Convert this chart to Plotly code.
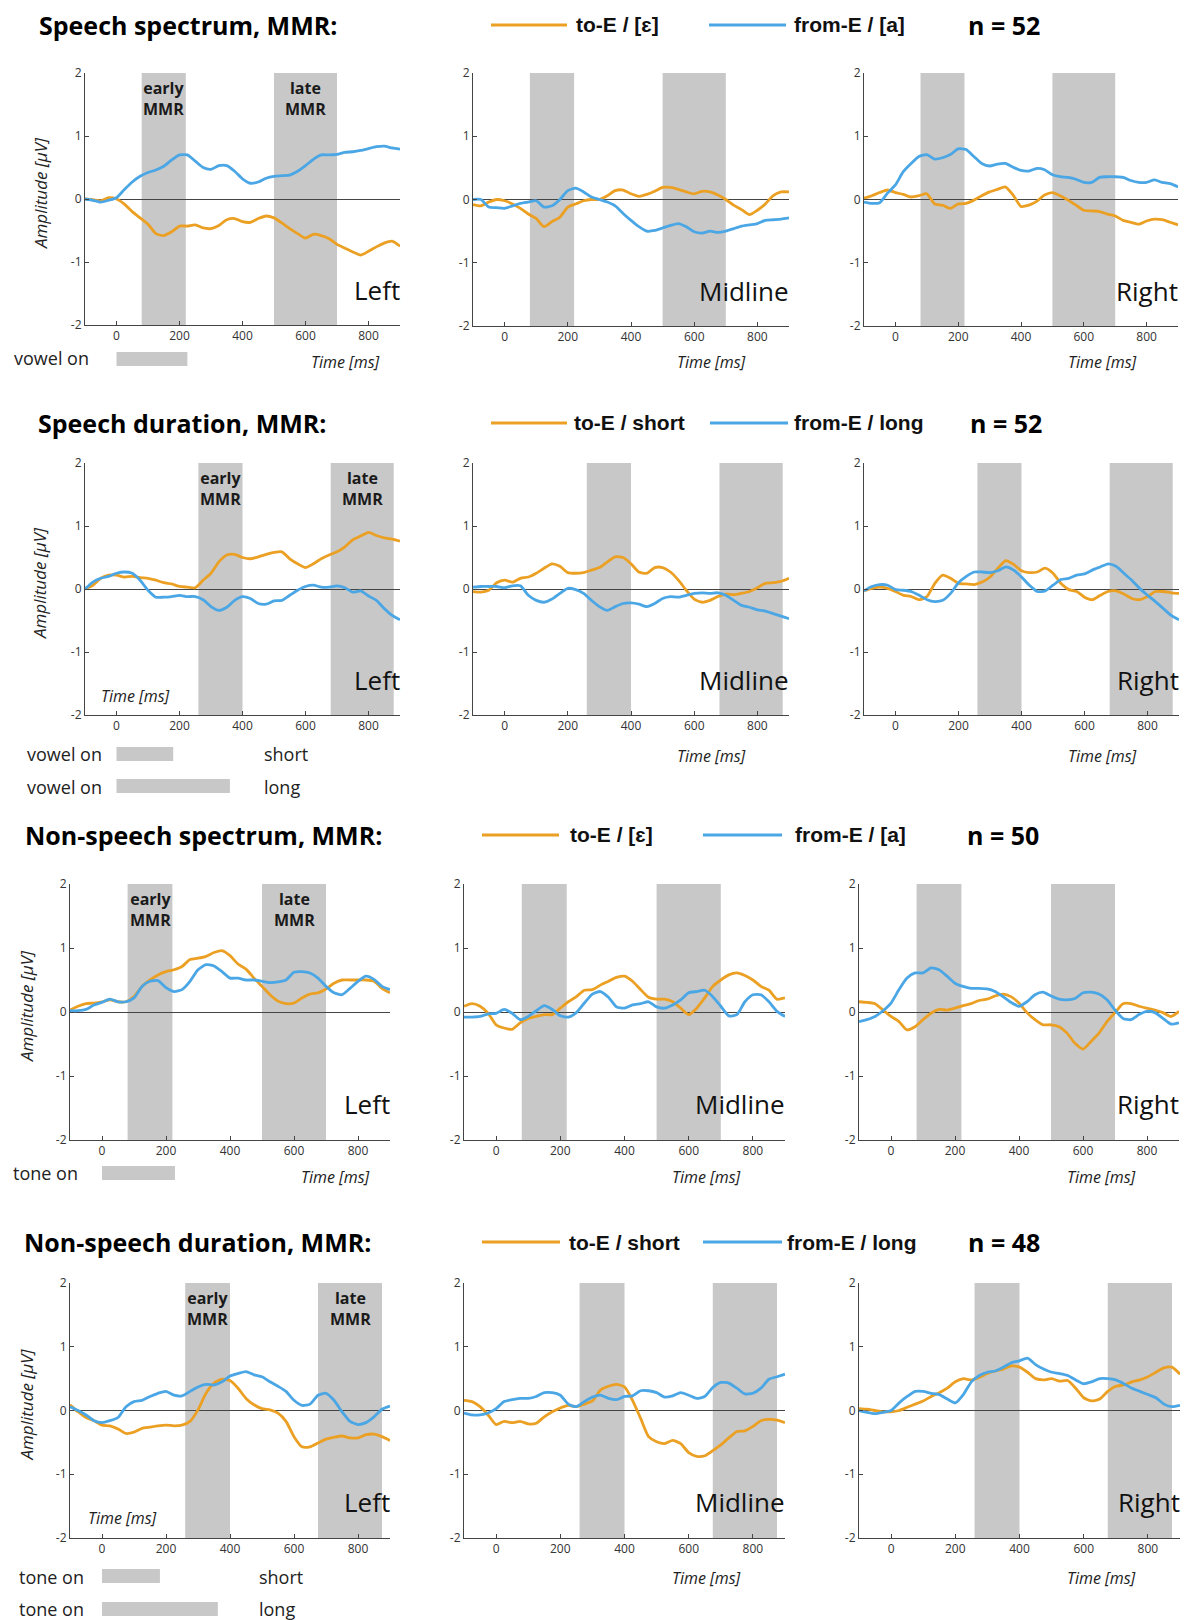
import plotly.graph_objects as go

# ---------------- data ----------------
T = list(range(-100, 901, 25))  # time [ms]

# Row 1: Speech spectrum (to-E / [ɛ] = orange, from-E / [a] = blue)
sspec_L_to = [0.0,-0.01,-0.03,0.02,0.0,-0.08,-0.2,-0.3,-0.4,-0.55,-0.58,-0.52,-0.43,-0.43,-0.41,-0.46,-0.47,-0.42,-0.33,-0.31,-0.36,-0.37,-0.31,-0.27,-0.30,-0.38,-0.47,-0.55,-0.62,-0.56,-0.58,-0.63,-0.72,-0.78,-0.84,-0.89,-0.83,-0.76,-0.70,-0.67,-0.75]
sspec_L_from = [0.0,-0.02,-0.05,-0.02,0.02,0.15,0.27,0.36,0.42,0.46,0.52,0.62,0.70,0.70,0.60,0.50,0.47,0.53,0.53,0.44,0.32,0.25,0.27,0.33,0.36,0.37,0.38,0.44,0.53,0.63,0.70,0.70,0.71,0.74,0.75,0.77,0.80,0.83,0.84,0.81,0.79]
sspec_M_to = [-0.08,-0.1,-0.04,0.0,-0.02,-0.07,-0.14,-0.23,-0.3,-0.43,-0.35,-0.28,-0.12,-0.07,-0.02,0.0,0.0,0.06,0.14,0.15,0.09,0.05,0.08,0.13,0.19,0.19,0.16,0.12,0.09,0.13,0.12,0.07,0.0,-0.09,-0.16,-0.24,-0.17,-0.07,0.06,0.12,0.12]
sspec_M_from = [0.0,0.0,-0.12,-0.13,-0.14,-0.1,-0.06,-0.04,-0.02,-0.12,-0.1,0.0,0.14,0.18,0.12,0.04,0.0,-0.04,-0.1,-0.22,-0.33,-0.43,-0.5,-0.49,-0.45,-0.41,-0.38,-0.43,-0.51,-0.53,-0.5,-0.52,-0.5,-0.46,-0.42,-0.4,-0.38,-0.33,-0.32,-0.31,-0.29]
sspec_R_to = [0.02,0.06,0.11,0.15,0.11,0.08,0.04,0.06,0.09,-0.07,-0.09,-0.14,-0.07,-0.06,-0.01,0.06,0.12,0.16,0.2,0.07,-0.11,-0.09,-0.03,0.07,0.11,0.06,-0.01,-0.09,-0.17,-0.18,-0.19,-0.23,-0.26,-0.33,-0.36,-0.39,-0.34,-0.31,-0.32,-0.36,-0.4]
sspec_R_from = [-0.04,-0.06,-0.05,0.1,0.23,0.44,0.57,0.68,0.71,0.64,0.66,0.71,0.8,0.79,0.68,0.57,0.53,0.56,0.57,0.51,0.46,0.45,0.49,0.47,0.39,0.36,0.35,0.32,0.27,0.27,0.35,0.36,0.36,0.35,0.30,0.27,0.27,0.31,0.27,0.25,0.2]

# Row 2: Speech duration (to-E / short = orange, from-E / long = blue)
sdur_L_to = [0.0,0.06,0.17,0.22,0.22,0.19,0.2,0.18,0.17,0.14,0.1,0.08,0.04,0.03,0.02,0.14,0.25,0.43,0.54,0.55,0.5,0.48,0.51,0.55,0.58,0.59,0.48,0.4,0.34,0.4,0.48,0.54,0.59,0.67,0.78,0.84,0.9,0.85,0.81,0.79,0.76]
sdur_L_from = [0.0,0.11,0.17,0.2,0.25,0.27,0.25,0.14,-0.02,-0.13,-0.13,-0.12,-0.1,-0.12,-0.12,-0.17,-0.28,-0.34,-0.29,-0.18,-0.12,-0.15,-0.23,-0.24,-0.19,-0.18,-0.1,-0.02,0.04,0.06,0.03,0.03,0.05,0.02,-0.05,-0.03,-0.11,-0.18,-0.31,-0.42,-0.49]
sdur_M_to = [-0.04,-0.05,-0.02,0.1,0.14,0.11,0.17,0.19,0.25,0.33,0.4,0.36,0.26,0.25,0.26,0.3,0.34,0.43,0.51,0.5,0.4,0.27,0.25,0.34,0.34,0.27,0.14,-0.02,-0.16,-0.21,-0.18,-0.12,-0.08,-0.09,-0.07,-0.04,0.02,0.09,0.1,0.12,0.17]
sdur_M_from = [0.03,0.04,0.04,0.04,0.02,0.05,0.05,-0.1,-0.18,-0.21,-0.16,-0.07,0.01,-0.01,-0.07,-0.18,-0.28,-0.34,-0.28,-0.23,-0.22,-0.24,-0.28,-0.23,-0.15,-0.12,-0.13,-0.1,-0.07,-0.06,-0.07,-0.06,-0.1,-0.18,-0.26,-0.29,-0.33,-0.35,-0.39,-0.43,-0.47]
sdur_R_to = [-0.03,0.01,0.03,0.01,-0.04,-0.1,-0.12,-0.17,-0.12,0.09,0.22,0.17,0.09,0.08,0.07,0.11,0.19,0.33,0.45,0.39,0.29,0.26,0.27,0.33,0.25,0.09,-0.01,-0.04,-0.13,-0.17,-0.1,-0.04,-0.03,-0.08,-0.15,-0.17,-0.12,-0.04,-0.04,-0.06,-0.07]
sdur_R_from = [-0.03,0.04,0.07,0.06,-0.01,-0.02,-0.04,-0.1,-0.17,-0.2,-0.18,-0.07,0.1,0.2,0.27,0.27,0.26,0.29,0.35,0.3,0.19,0.06,-0.04,-0.03,0.06,0.15,0.17,0.22,0.24,0.3,0.35,0.4,0.36,0.25,0.14,0.01,-0.1,-0.2,-0.31,-0.42,-0.49]

# Row 3: Non-speech spectrum
nspec_L_to = [0.03,0.09,0.13,0.14,0.16,0.19,0.16,0.16,0.24,0.4,0.5,0.58,0.63,0.66,0.71,0.82,0.84,0.87,0.93,0.96,0.88,0.75,0.67,0.53,0.4,0.27,0.17,0.13,0.14,0.22,0.28,0.3,0.36,0.45,0.5,0.5,0.5,0.5,0.48,0.37,0.3]
nspec_L_from = [0.02,0.02,0.04,0.11,0.15,0.2,0.16,0.16,0.22,0.4,0.48,0.49,0.38,0.32,0.35,0.48,0.66,0.74,0.72,0.63,0.53,0.53,0.5,0.5,0.48,0.46,0.47,0.5,0.62,0.63,0.61,0.53,0.4,0.3,0.27,0.37,0.48,0.56,0.51,0.4,0.35]
nspec_M_to = [0.09,0.13,0.09,-0.02,-0.2,-0.25,-0.27,-0.17,-0.1,-0.07,-0.04,-0.04,0.06,0.16,0.24,0.34,0.35,0.42,0.48,0.54,0.56,0.48,0.35,0.23,0.2,0.2,0.16,0.06,-0.04,0.06,0.22,0.4,0.5,0.58,0.61,0.57,0.5,0.4,0.34,0.2,0.22]
nspec_M_from = [-0.08,-0.08,-0.07,-0.03,-0.02,0.04,-0.02,-0.12,-0.07,0.02,0.1,0.04,-0.06,-0.08,-0.01,0.14,0.28,0.32,0.23,0.08,0.06,0.11,0.13,0.16,0.08,0.06,0.11,0.19,0.3,0.32,0.34,0.24,0.09,-0.06,-0.04,0.16,0.27,0.27,0.16,0.01,-0.07]
nspec_R_to = [0.16,0.15,0.13,0.03,-0.07,-0.15,-0.28,-0.23,-0.12,-0.02,0.04,0.03,0.06,0.1,0.13,0.18,0.2,0.25,0.28,0.24,0.14,-0.01,-0.12,-0.2,-0.2,-0.23,-0.33,-0.49,-0.58,-0.46,-0.33,-0.15,-0.01,0.13,0.13,0.09,0.06,0.03,-0.01,-0.07,0.01]
nspec_R_from = [-0.15,-0.12,-0.07,0.02,0.14,0.35,0.53,0.61,0.61,0.69,0.66,0.56,0.45,0.4,0.37,0.37,0.36,0.32,0.24,0.15,0.09,0.16,0.27,0.31,0.25,0.2,0.19,0.21,0.3,0.31,0.28,0.19,0.03,-0.1,-0.12,-0.04,0.01,-0.01,-0.1,-0.19,-0.17]

# Row 4: Non-speech duration
ndur_L_to = [0.09,-0.02,-0.11,-0.16,-0.23,-0.24,-0.29,-0.36,-0.34,-0.28,-0.26,-0.24,-0.23,-0.24,-0.23,-0.17,0.01,0.27,0.43,0.49,0.47,0.35,0.19,0.09,0.03,0.01,-0.04,-0.17,-0.41,-0.57,-0.57,-0.51,-0.45,-0.42,-0.4,-0.43,-0.43,-0.38,-0.37,-0.41,-0.47]
ndur_L_from = [0.06,0.0,-0.07,-0.16,-0.19,-0.16,-0.11,0.06,0.14,0.16,0.22,0.27,0.3,0.24,0.23,0.3,0.37,0.41,0.4,0.45,0.54,0.58,0.61,0.56,0.53,0.45,0.38,0.3,0.16,0.08,0.1,0.24,0.27,0.16,-0.02,-0.17,-0.22,-0.19,-0.1,0.02,0.07]
ndur_M_to = [0.16,0.14,0.06,-0.07,-0.22,-0.17,-0.19,-0.17,-0.21,-0.2,-0.1,-0.02,0.04,0.08,0.06,0.1,0.15,0.32,0.38,0.41,0.37,0.16,-0.12,-0.41,-0.49,-0.52,-0.47,-0.52,-0.66,-0.72,-0.71,-0.63,-0.54,-0.43,-0.33,-0.32,-0.25,-0.16,-0.14,-0.15,-0.19]
ndur_M_from = [-0.04,-0.07,-0.07,-0.04,0.03,0.14,0.17,0.19,0.19,0.22,0.28,0.28,0.24,0.1,0.06,0.14,0.21,0.24,0.19,0.17,0.22,0.23,0.31,0.31,0.28,0.21,0.23,0.28,0.24,0.19,0.22,0.36,0.44,0.43,0.35,0.26,0.27,0.35,0.49,0.53,0.57]
ndur_R_to = [0.03,0.02,0.0,-0.02,-0.02,0.0,0.05,0.1,0.15,0.22,0.28,0.35,0.45,0.5,0.48,0.52,0.58,0.62,0.65,0.7,0.68,0.6,0.5,0.48,0.5,0.46,0.47,0.35,0.2,0.15,0.18,0.3,0.38,0.4,0.45,0.48,0.53,0.6,0.67,0.68,0.57]
ndur_R_from = [0.0,-0.03,-0.05,-0.03,0.0,0.12,0.22,0.3,0.3,0.27,0.25,0.18,0.12,0.25,0.45,0.55,0.6,0.62,0.68,0.75,0.78,0.82,0.72,0.65,0.6,0.58,0.55,0.48,0.42,0.45,0.5,0.5,0.48,0.42,0.35,0.3,0.25,0.2,0.1,0.06,0.08]

row_titles = ["Speech spectrum, MMR:", "Speech duration, MMR:",
              "Non-speech spectrum, MMR:", "Non-speech duration, MMR:"]
legend_to = ["to-E / [ɛ]", "to-E / short", "to-E / [ɛ]", "to-E / short"]
legend_from = ["from-E / [a]", "from-E / long", "from-E / [a]", "from-E / long"]
n_labels = ["n = 52", "n = 52", "n = 50", "n = 48"]
site_labels = ["Left", "Midline", "Right"]

# MMR analysis windows [ms] per row: (early, late)
windows = [((80, 220), (500, 700)),
           ((260, 400), (680, 880)),
           ((80, 220), (500, 700)),
           ((260, 400), (675, 875))]

# stimulus durations [ms]
stim_spec_vowel = 225
stim_dur_vowel = [180, 360]
stim_spec_tone = 228
stim_dur_tone = [181, 362]

series = [
    [(sspec_L_to, sspec_L_from), (sspec_M_to, sspec_M_from), (sspec_R_to, sspec_R_from)],
    [(sdur_L_to, sdur_L_from), (sdur_M_to, sdur_M_from), (sdur_R_to, sdur_R_from)],
    [(nspec_L_to, nspec_L_from), (nspec_M_to, nspec_M_from), (nspec_R_to, nspec_R_from)],
    [(ndur_L_to, ndur_L_from), (ndur_M_to, ndur_M_from), (ndur_R_to, ndur_R_from)],
]

# ---------------- layout geometry (pixels) ----------------
W, H = 1184, 1620
panels = [
    [(85, 400, 73, 325), (473, 789, 73, 326), (864, 1178, 73, 326)],
    [(85, 400, 463, 715), (473, 789, 463, 715), (864, 1179, 463, 715)],
    [(70, 390, 884, 1140), (464, 785, 884, 1140), (859, 1179, 884, 1140)],
    [(70, 390, 1283, 1538), (464, 785, 1283, 1538), (859, 1180, 1283, 1538)],
]
title_y = [25, 423, 835, 1242]
title_x = [37, 36, 23, 22]
leg_geo = [  # orange line x0,x1, text x, blue line x0,x1, text x, n x
    (491, 567, 574, 709, 786, 792, 966),
    (491, 567, 572, 710, 788, 792, 968),
    (482, 559, 568, 703, 782, 793, 965),
    (482, 560, 567, 703, 782, 785, 966),
]

ORANGE = "#EBA024"
BLUE = "#4AA6E4"
SHADE = "#C8C8C8"
FONT = "Open Sans"
LEGFONT = "Liberation Sans"

def X(p):
    return p / W

def Y(p):
    return 1 - p / H

fig = go.Figure()
layout = dict(width=W, height=H,
              margin=dict(l=0, r=0, t=0, b=0, pad=0, autoexpand=False),
              paper_bgcolor="white", plot_bgcolor="white", showlegend=False,
              template="none")
shapes = []
annotations = []

def ann(text, x, y, size, xanchor="left", yanchor="middle", bold=False, italic=False,
        family=FONT, color="#111", xref="paper", yref="paper", angle=0):
    annotations.append(dict(
        text=text, x=x, y=y, xref=xref, yref=yref, xanchor=xanchor, yanchor=yanchor,
        showarrow=False, textangle=angle,
        font=dict(size=size, family=family, color=color,
                  weight="bold" if bold else "normal",
                  style="italic" if italic else "normal")))

for r in range(4):
    for c in range(3):
        n = r * 3 + 1 + c
        x0, x1, y0, y1 = panels[r][c]
        xa = "xaxis" if n == 1 else f"xaxis{n}"
        ya = "yaxis" if n == 1 else f"yaxis{n}"
        xid = "x" if n == 1 else f"x{n}"
        yid = "y" if n == 1 else f"y{n}"
        layout[xa] = dict(domain=[X(x0), X(x1)], anchor=yid, range=[-100, 900],
                          automargin=False,
                          tickvals=[0, 200, 400, 600, 800], ticks="inside", ticklen=4,
                          tickcolor="#444", showline=True, linecolor="#444", linewidth=1,
                          showgrid=False, zeroline=False,
                          tickfont=dict(size=12, family=FONT, color="#333"))
        layout[ya] = dict(domain=[Y(y1), Y(y0)], anchor=xid, range=[-2, 2],
                          automargin=False,
                          tickvals=[-2, -1, 0, 1, 2], ticktext=["-2", "-1", "0", "1", "2"],
                          ticks="inside", ticklen=4, tickcolor="#444",
                          showline=True, linecolor="#444", linewidth=1,
                          showgrid=False, zeroline=True, zerolinecolor="#444",
                          zerolinewidth=1,
                          tickfont=dict(size=12, family=FONT, color="#333"))
        # MMR windows
        for (a, b) in windows[r]:
            shapes.append(dict(type="rect", xref=xid, yref=f"{yid} domain",
                               x0=a, x1=b, y0=0, y1=1, fillcolor=SHADE,
                               line=dict(width=0), layer="below"))
        to_vals, from_vals = series[r][c]
        fig.add_trace(go.Scatter(x=T, y=to_vals, xaxis=xid, yaxis=yid, mode="lines",
                                 line=dict(color=ORANGE, width=2.8, shape="spline", smoothing=0.6),
                                 name=legend_to[r], hoverinfo="skip"))
        fig.add_trace(go.Scatter(x=T, y=from_vals, xaxis=xid, yaxis=yid, mode="lines",
                                 line=dict(color=BLUE, width=2.8, shape="spline", smoothing=0.6),
                                 name=legend_from[r], hoverinfo="skip"))
        # site label
        ann(site_labels[c], X(x1 + 2), -1.44, 26, xanchor="right", yref=yid, color="#111")
        if c == 0:
            for (a, b), lab in zip(windows[r], ["early<br>MMR", "late<br>MMR"]):
                ann(lab, (a + b) / 2, 1.6, 16, xanchor="center", bold=True,
                    xref=xid, yref=yid, color="#1a1a1a")
            ann("Amplitude [µV]", X(40 if r < 2 else 26), Y((y0 + y1) / 2 - 6), 17,
                xanchor="center", italic=True, angle=-90, color="#222")

    # row title
    ann(row_titles[r], X(title_x[r]), Y(title_y[r]), 25, bold=True, color="#000")
    # legend
    ox0, ox1, otx, bx0, bx1, btx, nx = leg_geo[r]
    ly = title_y[r]
    shapes.append(dict(type="line", xref="paper", yref="paper", x0=X(ox0), x1=X(ox1),
                       y0=Y(ly), y1=Y(ly), line=dict(color=ORANGE, width=3)))
    shapes.append(dict(type="line", xref="paper", yref="paper", x0=X(bx0), x1=X(bx1),
                       y0=Y(ly), y1=Y(ly), line=dict(color=BLUE, width=3)))
    ann(legend_to[r], X(otx), Y(ly), 21, bold=True, family=LEGFONT, color="#111")
    ann(legend_from[r], X(btx), Y(ly), 21, bold=True, family=LEGFONT, color="#111")
    ann(n_labels[r], X(nx), Y(ly), 25, bold=True, color="#000")

# "Time [ms]" labels: (row, x px, anchor, y px)
time_labels = [
    (0, 382, "right", 362), (0, 748, "right", 362), (0, 1139, "right", 362),
    (1, 99, "left", 696), (1, 748, "right", 756), (1, 1139, "right", 756),
    (2, 372, "right", 1177), (2, 743, "right", 1177), (2, 1138, "right", 1177),
    (3, 86, "left", 1518), (3, 743, "right", 1578), (3, 1138, "right", 1578),
]
for (r, xp, anc, yp) in time_labels:
    ann("Time [ms]", X(xp), Y(yp), 16, xanchor=anc, italic=True, color="#222")

# stimulus-on bars
def stim_bar(axis_id, dur, yc):
    shapes.append(dict(type="rect", xref=axis_id, yref="paper", x0=0, x1=dur,
                       y0=Y(yc + 7), y1=Y(yc - 7), fillcolor=SHADE, line=dict(width=0)))

ann("vowel on", X(12), Y(358), 18, color="#222")
stim_bar("x", stim_spec_vowel, 359)

ann("vowel on", X(25), Y(754), 18, color="#222")
stim_bar("x4", stim_dur_vowel[0], 754)
ann("short", X(262), Y(754), 18, color="#222")
ann("vowel on", X(25), Y(787), 18, color="#222")
stim_bar("x4", stim_dur_vowel[1], 786)
ann("long", X(262), Y(787), 18, color="#222")

ann("tone on", X(11), Y(1173), 18, color="#222")
stim_bar("x7", stim_spec_tone, 1173)

ann("tone on", X(17), Y(1577), 18, color="#222")
stim_bar("x10", stim_dur_tone[0], 1576)
ann("short", X(257), Y(1577), 18, color="#222")
ann("tone on", X(17), Y(1609), 18, color="#222")
stim_bar("x10", stim_dur_tone[1], 1609)
ann("long", X(257), Y(1609), 18, color="#222")

layout["shapes"] = shapes
layout["annotations"] = annotations
fig.update_layout(**layout)
fig.write_html("out.html",
               config={"displayModeBar": False, "responsive": False},
               post_script="document.body.style.margin='0';document.body.style.overflow='hidden';")
